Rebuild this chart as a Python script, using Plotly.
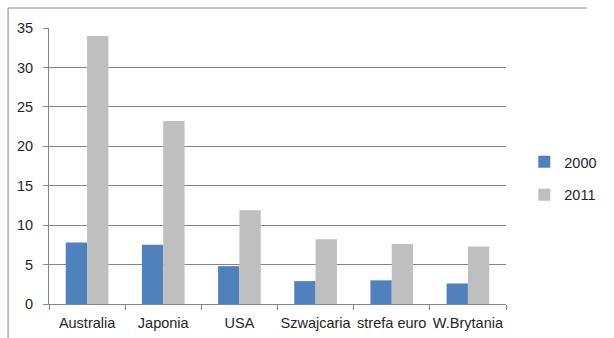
import plotly.graph_objects as go

# Data
countries = ["Australia", "Japonia", "USA", "Szwajcaria", "strefa euro", "W.Brytania"]
values_2000 = [7.8, 7.5, 4.8, 2.9, 3.0, 2.6]
values_2011 = [34.0, 23.2, 11.9, 8.2, 7.6, 7.3]
y_ticks = [0, 5, 10, 15, 20, 25, 30, 35]

W, H = 614, 338
L, R, T, B = 49, 85, 28, 34

fig = go.Figure()
fig.add_trace(go.Bar(x=countries, y=values_2000, name="2000",
                     marker=dict(color="#4F81BD", line=dict(width=0)),
                     legendgroup="a"))
fig.add_trace(go.Bar(x=countries, y=values_2011, name="2011",
                     marker=dict(color="#BFBFBF", line=dict(width=0)),
                     legendgroup="b"))

font = dict(family="Liberation Sans, Arial, sans-serif", size=14.5, color="#262626")
axis_col = "#868686"

fig.update_layout(
    width=W, height=H,
    margin=dict(l=L, r=R, t=T, b=B, pad=0),
    paper_bgcolor="white", plot_bgcolor="white",
    font=font,
    barmode="group", bargap=0.44, bargroupgap=0,
    showlegend=True,
    legend=dict(x=1.04, y=0.455, xanchor="left", yanchor="middle",
                font=font, tracegroupgap=11, bgcolor="rgba(0,0,0,0)"),
    xaxis=dict(type="category", showline=True, linecolor=axis_col, linewidth=1,
               ticks="outside", tickson="boundaries", ticklen=5, tickcolor=axis_col,
               showgrid=False, zeroline=False, tickfont=font, ticklabelstandoff=6,
               tickangle=0, automargin=False),
    yaxis=dict(range=[0, 35], tickvals=y_ticks, showline=True, linecolor=axis_col,
               linewidth=1, ticks="outside", ticklen=5, tickcolor=axis_col,
               showgrid=True, gridcolor=axis_col, gridwidth=1, zeroline=False,
               tickfont=font, ticklabelstandoff=7, automargin=False),
)

# Chart-area frame (top and left edges visible)
x0 = -L / (W - L - R) + 6 / (W - L - R)
y_top = 1 + (T - 8) / (H - T - B)
fig.add_shape(type="line", xref="paper", yref="paper",
              x0=x0, x1=1 + R / (W - L - R), y0=y_top, y1=y_top,
              line=dict(color=axis_col, width=1))
fig.add_shape(type="line", xref="paper", yref="paper",
              x0=x0, x1=x0, y0=y_top, y1=-B / (H - T - B),
              line=dict(color=axis_col, width=1))

fig.write_html("out.html")
